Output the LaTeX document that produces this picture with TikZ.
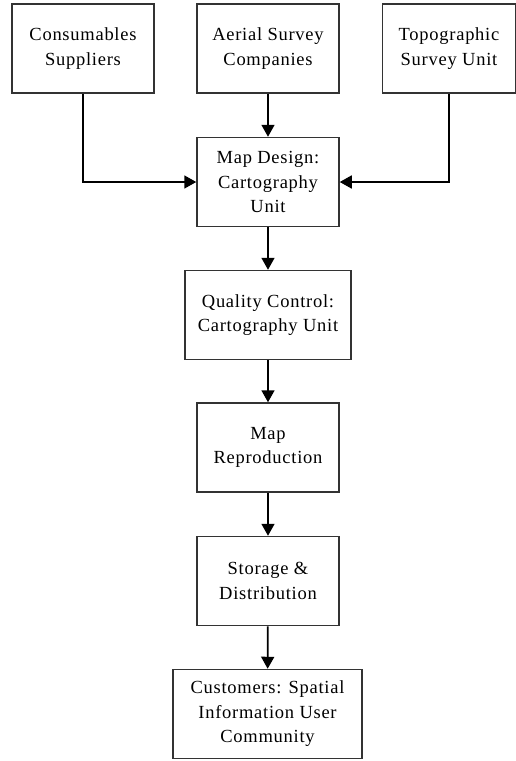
\documentclass[tikz,border=0pt]{standalone}
\usepackage{fontspec}
\setmainfont[LetterSpace=4]{Liberation Serif}
\usetikzlibrary{arrows.meta}
\begin{document}
\begin{tikzpicture}[x=1pt,y=-1pt,
  box/.style={draw=black!80, line width=1.5pt, fill=white, align=center,
    inner sep=0pt, minimum height=89pt, minimum width=142pt,
    font=\fontsize{18.5}{24.5}\selectfont},
  flow/.style={line width=1.7pt, -{Triangle[length=12pt,width=13pt]}}]
\useasboundingbox (0,0) rectangle (516,761);
\node[box] (cons) at (83,48.5) {Consumables\\Suppliers};
\node[box] (aer) at (268,48.5) {Aerial Survey\\Companies};
\node[box, minimum width=133pt] (topo) at (449,48.5) {Topographic\\Survey Unit};
\node[box] (design) at (268,182) {Map Design:\\Cartography\\Unit};
\node[box, minimum width=166pt] (qc) at (268,315) {Quality Control:\\Cartography Unit};
\node[box] (rep) at (268,447.5) {Map\\Reproduction};
\node[box] (stor) at (268,581) {Storage \&\\Distribution};
\node[box, minimum width=189pt] (cust) at (267.5,714) {Customers: Spatial\\Information User\\Community};
\draw[flow] (cons.south) |- (design.west);
\draw[flow] (topo.south) |- (design.east);
\draw[flow] (aer) -- (design);
\draw[flow] (design) -- (qc);
\draw[flow] (qc) -- (rep);
\draw[flow] (rep) -- (stor);
\draw[flow] (stor) -- (cust);
\end{tikzpicture}
\end{document}
